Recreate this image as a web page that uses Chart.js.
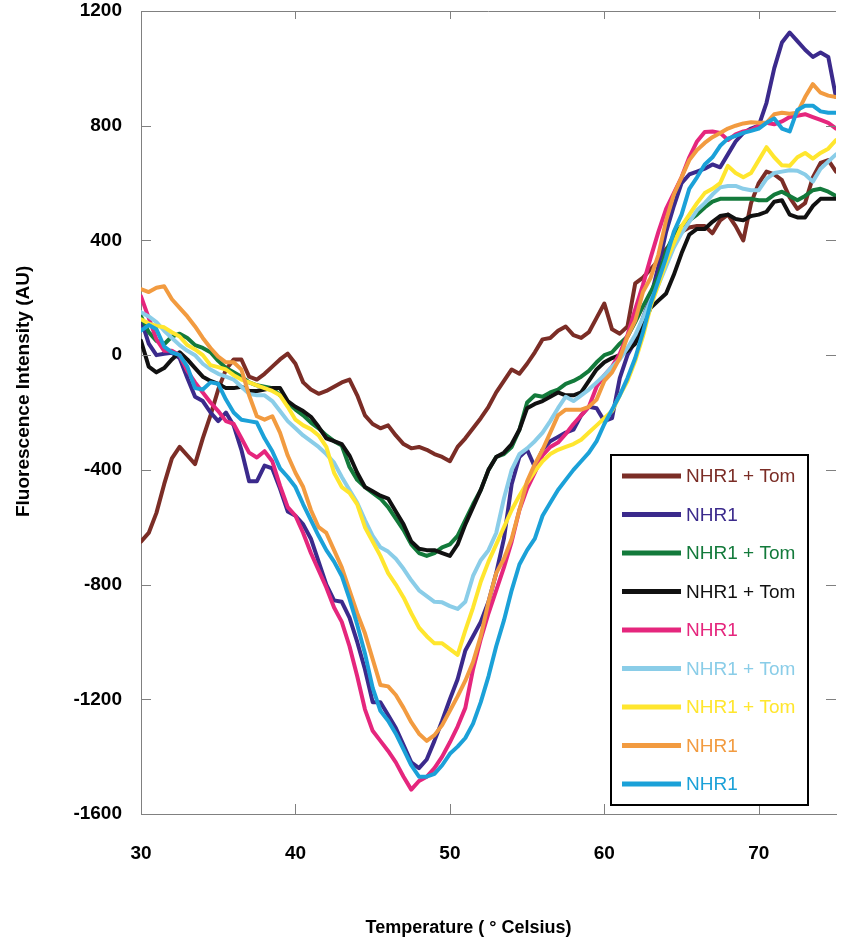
<!DOCTYPE html>
<html><head><meta charset="utf-8">
<script src="https://cdn.jsdelivr.net/npm/chart.js@4.4.0/dist/chart.umd.min.js"></script>
<style>html,body{margin:0;padding:0;background:#fff;}#wrap{width:844px;height:944px;position:relative;}</style>
</head><body><div id="wrap"><canvas id="c"></canvas></div>
<script>
const temperatures = [30,30.5,31,31.5,32,32.5,33,33.5,34,34.5,35,35.5,36,36.5,37,37.5,38,38.5,39,39.5,40,40.5,41,41.5,42,42.5,43,43.5,44,44.5,45,45.5,46,46.5,47,47.5,48,48.5,49,49.5,50,50.5,51,51.5,52,52.5,53,53.5,54,54.5,55,55.5,56,56.5,57,57.5,58,58.5,59,59.5,60,60.5,61,61.5,62,62.5,63,63.5,64,64.5,65,65.5,66,66.5,67,67.5,68,68.5,69,69.5,70,70.5,71,71.5,72,72.5,73,73.5,74,74.5,75];

const brownTom = [-650,-620,-550,-450,-360,-320,-350,-380,-290,-210,
 -120,-50,-15,-15,-75,-85,-65,-40,-15,5,
 -30,-95,-120,-135,-125,-110,-95,-85,-140,-210,
 -240,-255,-245,-280,-310,-325,-320,-330,-345,-355,
 -370,-320,-290,-255,-220,-180,-130,-90,-50,-65,
 -30,10,55,60,85,100,70,60,80,130,
 180,90,75,100,250,270,300,330,370,400,
 430,445,450,450,425,470,490,450,400,530,
 600,640,630,610,550,510,530,620,670,680,
 640];
const purpleNhr = [125,40,0,5,8,-10,-80,-145,-160,-200,
 -230,-200,-245,-330,-440,-440,-385,-395,-465,-545,
 -560,-590,-640,-720,-800,-855,-860,-915,-1000,-1095,
 -1210,-1210,-1255,-1300,-1360,-1420,-1440,-1410,-1345,-1275,
 -1200,-1130,-1030,-980,-930,-860,-760,-640,-450,-355,
 -330,-390,-330,-300,-285,-270,-260,-210,-180,-185,
 -230,-220,-80,0,50,130,200,310,430,520,
 600,630,640,650,665,655,700,745,775,790,
 800,880,1000,1090,1125,1095,1065,1040,1055,1040,
 900];
const greenTom = [135,80,50,38,65,75,60,35,25,10,
 -20,-45,-60,-75,-95,-105,-110,-115,-140,-165,
 -190,-210,-235,-255,-280,-300,-315,-390,-435,-460,
 -480,-500,-530,-570,-610,-660,-690,-700,-690,-670,
 -660,-630,-575,-520,-470,-400,-355,-345,-320,-260,
 -165,-140,-145,-130,-120,-100,-90,-75,-55,-25,
 0,10,40,65,115,170,220,275,360,420,
 450,470,490,515,535,545,545,545,545,545,
 540,540,560,570,555,540,555,575,580,570,
 555];
const blackTom = [50,-40,-60,-45,-15,10,-15,-45,-75,-90,
 -100,-115,-115,-110,-125,-125,-120,-115,-115,-160,
 -180,-195,-215,-250,-290,-300,-310,-350,-410,-460,
 -475,-490,-500,-545,-590,-650,-675,-680,-680,-690,
 -700,-660,-590,-530,-470,-400,-355,-340,-310,-260,
 -185,-170,-160,-145,-130,-140,-140,-130,-90,-50,
 -25,-10,0,15,40,100,165,190,215,280,
 355,420,440,440,465,485,490,475,470,485,
 490,500,535,540,490,480,480,520,545,545,
 545];
const pinkNhr = [205,130,55,15,15,0,-55,-95,-130,-165,
 -195,-230,-240,-290,-340,-357,-335,-370,-455,-530,
 -560,-620,-690,-750,-810,-880,-930,-1015,-1120,-1235,
 -1310,-1345,-1380,-1420,-1470,-1515,-1485,-1470,-1440,-1400,
 -1350,-1295,-1230,-1095,-990,-900,-820,-740,-650,-540,
 -465,-410,-350,-320,-305,-275,-240,-210,-180,-110,
 -70,-40,5,70,160,245,340,430,510,565,
 620,690,745,778,780,775,750,770,780,785,
 800,810,805,815,830,835,840,830,820,810,
 790];
const lightBlueTom = [150,135,115,85,60,35,15,0,-30,-50,
 -65,-75,-85,-110,-135,-140,-140,-160,-195,-230,
 -255,-280,-300,-320,-345,-375,-425,-470,-515,-575,
 -630,-670,-685,-710,-745,-785,-820,-840,-860,-862,
 -875,-885,-860,-770,-715,-680,-620,-500,-400,-345,
 -325,-300,-270,-230,-185,-145,-160,-140,-120,-95,
 -70,-40,-15,25,70,130,190,245,310,375,
 425,465,505,530,560,585,590,590,580,575,
 575,615,635,640,645,643,630,605,650,675,
 700];
const yellowTom = [125,110,102,97,80,65,35,20,0,-35,
 -42,-50,-70,-85,-95,-105,-115,-125,-140,-180,
 -225,-245,-258,-280,-320,-410,-460,-480,-520,-600,
 -650,-700,-760,-800,-845,-900,-950,-980,-1005,-1005,
 -1025,-1045,-960,-880,-790,-720,-660,-600,-540,-490,
 -445,-405,-370,-345,-330,-320,-310,-295,-270,-245,
 -220,-195,-140,-90,-20,65,170,245,325,390,
 450,490,530,565,580,600,660,635,620,635,
 680,725,690,662,660,690,705,685,705,720,
 750];
const orangeNhr = [230,220,235,240,195,165,135,100,60,25,
 -5,-25,-25,-50,-140,-213,-225,-213,-270,-350,
 -410,-460,-540,-600,-620,-680,-740,-820,-900,-970,
 -1060,-1150,-1155,-1185,-1230,-1280,-1320,-1345,-1325,-1290,
 -1240,-1190,-1135,-1070,-980,-860,-760,-710,-640,-540,
 -440,-380,-330,-270,-210,-190,-190,-190,-180,-155,
 -90,-60,-10,65,120,220,270,350,470,560,
 620,680,715,740,760,775,790,800,808,812,
 810,810,840,845,842,845,900,945,915,905,
 900];
const cyanNhr = [85,105,90,30,10,0,-40,-115,-120,-95,
 -100,-155,-200,-225,-230,-235,-290,-335,-395,-425,
 -460,-520,-575,-630,-680,-720,-770,-850,-940,-1040,
 -1160,-1240,-1275,-1320,-1375,-1430,-1470,-1470,-1460,-1430,
 -1390,-1365,-1335,-1285,-1210,-1120,-1015,-925,-820,-730,
 -680,-640,-560,-515,-470,-435,-400,-370,-340,-300,
 -240,-190,-140,-80,-10,80,180,260,340,430,
 490,580,620,665,690,730,755,765,775,782,
 790,810,825,790,780,855,870,870,850,845,
 845];

const seriesValues = [brownTom, purpleNhr, greenTom, blackTom, pinkNhr, lightBlueTom, yellowTom, orangeNhr, cyanNhr];
const seriesLabels = ['NHR1 + Tom','NHR1','NHR1 + Tom','NHR1 + Tom','NHR1','NHR1 + Tom','NHR1 + Tom','NHR1','NHR1'];
const seriesColors = ['#7B2D26','#3B2A8C','#137A3B','#111111','#E5267D','#8ACDE8','#FFE62E','#F29B40','#1BA1D8'];

const xTickValues = [30,40,50,60,70];
const yTickValues = [-1600,-1200,-800,-400,0,400,800,1200];

const FONT = '"Liberation Sans", Arial, sans-serif';
Chart.defaults.font.family = FONT;

const frameTicks = {
  id: 'frameTicks',
  afterDraw(chart) {
    const {ctx, chartArea: {left, right, top, bottom}, scales: {x, y}} = chart;
    ctx.save();
    ctx.strokeStyle = '#808080';
    ctx.lineWidth = 1;
    ctx.beginPath();
    ctx.moveTo(left, Math.round(top) + 0.5); ctx.lineTo(right, Math.round(top) + 0.5);
    x.ticks.forEach(t => {
      if (t.value <= x.min || t.value >= x.max) return;
      const px = Math.round(x.getPixelForValue(t.value)) + 0.5;
      ctx.moveTo(px, bottom); ctx.lineTo(px, bottom - 10);
      ctx.moveTo(px, top); ctx.lineTo(px, top + 8);
    });
    y.ticks.forEach(t => {
      const py = Math.round(y.getPixelForValue(t.value)) + 0.5;
      ctx.moveTo(left, py); ctx.lineTo(left + 10, py);
      ctx.moveTo(right - 10, py); ctx.lineTo(right, py);
    });
    ctx.stroke();
    ctx.restore();
  }
};

const legendBox = {
  id: 'legendBox',
  afterDraw(chart) {
    const ctx = chart.ctx;
    const x0 = 611, y0 = 455, w = 197, h = 350;
    ctx.save();
    ctx.fillStyle = '#ffffff';
    ctx.fillRect(x0, y0, w, h);
    ctx.lineWidth = 2;
    ctx.strokeStyle = '#000000';
    ctx.strokeRect(x0, y0, w, h);
    ctx.font = '19px ' + FONT;
    ctx.textBaseline = 'middle';
    ctx.textAlign = 'left';
    chart.data.datasets.forEach((ds, i) => {
      const yy = 476 + i * 38.5;
      ctx.strokeStyle = ds.borderColor;
      ctx.lineWidth = 5;
      ctx.lineCap = 'butt';
      ctx.beginPath(); ctx.moveTo(622, yy); ctx.lineTo(681, yy); ctx.stroke();
      ctx.fillStyle = ds.borderColor;
      ctx.fillText(ds.label, 686, yy + 1);
    });
    ctx.restore();
  }
};

const datasets = seriesValues.map((vals, i) => ({
  label: seriesLabels[i],
  data: temperatures.map((t, j) => ({x: t, y: vals[j]})),
  borderColor: seriesColors[i],
  backgroundColor: seriesColors[i],
  borderWidth: 4,
  borderJoinStyle: 'round',
  borderCapStyle: 'round',
  pointRadius: 0,
  tension: 0,
  fill: false,
  order: seriesValues.length - i
}));

new Chart(document.getElementById('c'), {
  type: 'line',
  data: { datasets },
  options: {
    responsive: true,
    maintainAspectRatio: false,
    animation: false,
    layout: { padding: { top: 11, right: 8, bottom: 0, left: 0 } },
    plugins: { legend: { display: false }, tooltip: { enabled: false } },
    scales: {
      x: {
        type: 'linear', min: 30, max: 75,
        afterBuildTicks: s => { s.ticks = xTickValues.map(v => ({value: v})); },
        afterFit: s => { s.height = 130; s.paddingLeft = 0; s.paddingRight = 0; },
        grid: { display: false, drawTicks: false },
        border: { display: true, color: '#808080', width: 1 },
        ticks: { color: '#000', font: { size: 19, weight: 'bold' }, padding: 28, maxRotation: 0, autoSkip: false, callback: v => String(v) },
        title: { display: true, text: 'Temperature ( ° Celsius)' + '\u00a0'.repeat(8), color: '#000', font: { size: 18, weight: 'bold' }, padding: { top: 0, bottom: 5 } }
      },
      y: {
        min: -1600, max: 1200,
        afterBuildTicks: s => { s.ticks = yTickValues.map(v => ({value: v})); },
        afterFit: s => { s.width = 141; s.paddingTop = 0; s.paddingBottom = 0; },
        grid: { display: false, drawTicks: false },
        border: { display: true, color: '#808080', width: 1 },
        ticks: { color: '#000', font: { size: 19, weight: 'bold' }, padding: 19, callback: v => String(v) },
        title: { display: true, text: '\u00a0'.repeat(8) + 'Fluorescence Intensity (AU)', color: '#000', font: { size: 19, weight: 'bold' }, padding: { top: 12, bottom: 0 } }
      }
    }
  },
  plugins: [frameTicks, legendBox]
});
</script>
</body></html>
